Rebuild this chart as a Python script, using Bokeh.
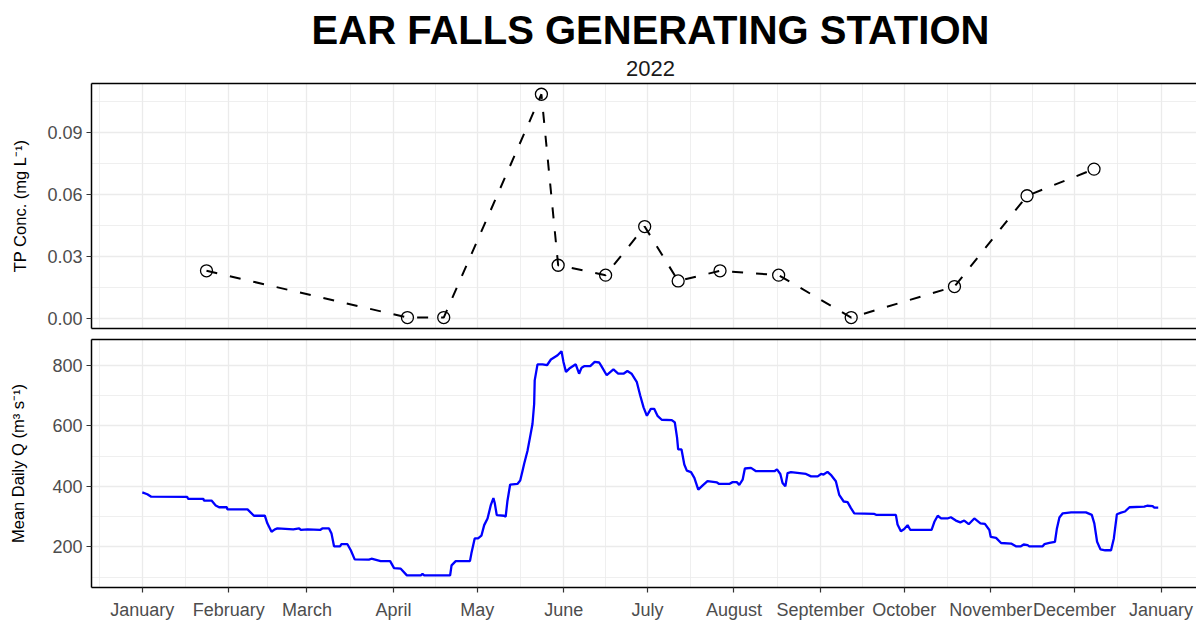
import pandas as pd
from bokeh.plotting import figure
from bokeh.models import FixedTicker, LinearAxis, Range1d, PrintfTickFormatter
from bokeh.core.properties import value
from bokeh.layouts import column
from bokeh.embed import file_html
from bokeh.resources import INLINE

# ---------------- data ----------------
title_text = "EAR FALLS GENERATING STATION"
subtitle_text = "2022"
tp_axis_title = "TP Conc. (mg L\u207b\u00b9)"
q_axis_title = "Mean Daily Q (m\u00b3 s\u207b\u00b9)"

month_starts = ["2022-01-01", "2022-02-01", "2022-03-01", "2022-04-01", "2022-05-01",
                "2022-06-01", "2022-07-01", "2022-08-01", "2022-09-01", "2022-10-01",
                "2022-11-01", "2022-12-01", "2023-01-01"]
month_labels = ["January", "February", "March", "April", "May", "June", "July",
                "August", "September", "October", "November", "December", "January"]

tp_dates = ["2022-01-24", "2022-04-06", "2022-04-19", "2022-05-24", "2022-05-30",
            "2022-06-16", "2022-06-30", "2022-07-12", "2022-07-27", "2022-08-17",
            "2022-09-12", "2022-10-19", "2022-11-14", "2022-12-08"]
tp_conc = [0.0229, 0.0003, 0.0003, 0.1083, 0.0256, 0.0208, 0.0443, 0.0180,
           0.0229, 0.0208, 0.0003, 0.0153, 0.0592, 0.0721]

# day of year (0 = 1 January 2022) and mean daily discharge
flow_day = [0, 1.8, 3.2, 16.1, 16.4, 21.9, 22.1, 24.8, 26.3, 27.5, 30.3, 30.5, 37.7, 40.0,
            43.9, 44.8, 46.3, 47.5, 48.4, 54.1, 56.2, 56.8, 59.2, 63.7, 64.5, 66.9, 67.8,
            68.7, 70.9, 71.3, 73.5, 74.7, 76.1, 81.2, 82.1, 85.4, 88.8, 90.2, 92.6, 94.8,
            99.8, 100.4, 101.0, 110.3, 110.8, 112.3, 117.4, 117.9, 119.1, 120.3, 121.5,
            122.5, 123.7, 124.9, 125.8, 126.3, 127.0, 129.6, 130.2, 130.8, 131.8, 134.4,
            135.4, 136.2, 136.8, 138.0, 138.9, 139.8, 140.4, 140.6, 141.6, 143.4, 145.0,
            146.4, 148.8, 150.2, 150.9, 151.8, 153.0, 155.3, 156.5, 157.4, 158.3, 160.5,
            162.1, 163.7, 164.5, 166.4, 168.8, 170.5, 172.4, 173.8, 175.3, 177.2, 178.4,
            179.6, 180.8, 182.2, 183.4, 184.6, 186.1, 189.7, 190.8, 191.6, 192.0, 193.2,
            194.2, 195.1, 196.6, 197.8, 199.2, 200.8, 202.5, 205.9, 206.7, 210.3, 211.5,
            213.0, 213.9, 215.1, 215.9, 218.1, 219.9, 226.5, 227.4, 228.6, 229.4, 230.4,
            231.2, 232.4, 237.8, 239.6, 242.0, 243.2, 244.1, 245.5, 246.9, 248.5, 249.7,
            251.3, 252.7, 253.9, 255.1, 262.3, 262.9, 270.0, 270.6, 271.8, 273.0, 274.2,
            275.2, 282.8, 283.8, 285.0, 286.2, 288.5, 289.7, 291.5, 293.1, 294.5, 296.1,
            298.1, 300.3, 301.9, 303.5, 304.0, 305.9, 307.7, 311.3, 313.0, 314.8, 315.8,
            317.2, 317.8, 322.6, 323.2, 325.0, 327.0, 327.7, 328.6, 329.8, 332.8, 338.1,
            340.2, 341.1, 342.1, 343.3, 345.0, 347.1, 348.1, 349.2, 350.7, 352.1, 353.7,
            359.0, 360.0, 362.0, 362.6, 364.0]
flow_cms = [380, 374, 366, 365, 359, 359, 353, 353, 337, 331, 331, 324, 324, 303,
            303, 278, 250, 258, 261, 258, 261, 256, 258, 256, 261, 261, 244,
            202, 202, 209, 209, 189, 159, 158, 161, 153, 153, 130, 128, 106,
            106, 111, 106, 106, 139, 153, 153, 178, 228, 228, 237,
            272, 294, 339, 361, 344, 305, 303, 300, 350, 406, 408,
            419, 450, 474, 517, 561, 606, 672, 750, 803, 803, 800,
            819, 833, 846, 811, 778, 789, 803, 772, 792, 797, 797,
            811, 809, 797, 767, 786, 772, 772, 781, 772, 744, 700,
            661, 633, 656, 656, 633, 620, 619, 611, 561, 522, 522,
            472, 452, 447, 428, 389, 403, 417, 413, 408, 408, 414,
            414, 405, 422, 459, 461, 450, 450, 456, 441, 411, 400,
            444, 447, 441, 433, 433, 441, 439, 448, 436, 417, 372,
            350, 348, 328, 311, 309, 306, 306, 274, 252, 259, 272,
            256, 256, 283, 303, 294, 294, 298, 287, 281, 287, 275,
            294, 278, 276, 256, 233, 230, 213, 211, 202, 202, 208,
            206, 202, 202, 209, 213, 217, 261, 297, 311, 314, 314,
            306, 278, 217, 192, 189, 189, 228, 308, 313, 317, 331,
            333, 336, 335, 330, 330]

# ---------------- helpers ----------------
base = pd.Timestamp("2022-01-01")
month_days = [int((pd.Timestamp(d) - base).days) for d in month_starts]
tp_day = [int((pd.Timestamp(d) - base).days) for d in tp_dates]
ext = [int((pd.Timestamp("2021-12-01") - base).days)] + month_days + \
      [int((pd.Timestamp("2023-02-01") - base).days)]
minor_days = [(a + b) / 2 for a, b in zip(ext[:-1], ext[1:])]

FONT = "Liberation Sans"
GRID = "#EBEBEB"
TOTAL_W = 1196
LEFT = 91
FRAME_W = TOTAL_W - LEFT
PX_PER_DAY = 2.791
X0 = -18.2
X1 = X0 + FRAME_W / PX_PER_DAY


def style_axis(ax):
    ax.axis_line_color = "black"
    ax.axis_line_width = 1.5
    ax.major_tick_line_color = "#333333"
    ax.major_tick_line_width = 1.2
    ax.major_tick_out = 5
    ax.major_tick_in = 0
    ax.minor_tick_line_color = None
    ax.major_label_text_font = FONT
    ax.major_label_text_font_size = "18px"
    ax.major_label_text_color = "#4D4D4D"
    ax.major_label_standoff = 4
    ax.axis_label_text_font = FONT
    ax.axis_label_text_font_size = "16.5px"
    ax.axis_label_text_font_style = "normal"
    ax.axis_label_text_color = "black"


def make_fig(frame_h, y0, y1, ymaj, ymin, top_border, bottom_border, show_x):
    p = figure(frame_width=FRAME_W, frame_height=frame_h,
               x_range=Range1d(X0, X1), y_range=Range1d(y0, y1),
               output_backend="svg", toolbar_location=None, title=None,
               min_border_left=LEFT, min_border_right=0,
               min_border_top=top_border, min_border_bottom=bottom_border)
    p.outline_line_color = None
    p.background_fill_color = "white"
    p.border_fill_color = "white"

    xt = FixedTicker(ticks=month_days, minor_ticks=minor_days)
    yt = FixedTicker(ticks=ymaj, minor_ticks=ymin)
    p.xaxis.ticker = xt if show_x else FixedTicker(ticks=[])
    p.yaxis.ticker = yt
    p.xgrid.ticker = xt
    p.ygrid.ticker = yt
    for g in (p.xgrid, p.ygrid):
        g.grid_line_color = GRID
        g.grid_line_width = 1.3
        g.minor_grid_line_color = GRID
        g.minor_grid_line_width = 0.8

    style_axis(p.xaxis[0])
    style_axis(p.yaxis[0])
    if not show_x:
        p.xaxis.major_tick_out = 0
        p.xaxis.major_label_standoff = 0

    top_ax = LinearAxis(ticker=FixedTicker(ticks=[]), axis_line_color="black",
                        axis_line_width=1.5, major_tick_out=0, major_tick_in=0,
                        major_tick_line_color=None, minor_tick_line_color=None,
                        major_label_standoff=0)
    p.add_layout(top_ax, "above")
    return p


# ---------------- title strip (coordinates in page pixels) ----------------
TITLE_H = 82
p0 = figure(frame_width=FRAME_W, frame_height=TITLE_H,
            x_range=Range1d(LEFT, TOTAL_W), y_range=Range1d(TITLE_H, 0),
            x_axis_type=None, y_axis_type=None, title=None,
            output_backend="svg", toolbar_location=None,
            min_border_left=LEFT, min_border_right=0,
            min_border_top=0, min_border_bottom=0)
p0.outline_line_color = None
p0.background_fill_color = "white"
p0.border_fill_color = "white"
p0.text(x=[650], y=[29], text=[title_text], text_font=value(FONT),
        text_font_size="40px", text_font_style="bold", text_color="black",
        text_align="center", text_baseline="alphabetic")
p0.text(x=[650], y=[68], text=[subtitle_text], text_font=value(FONT),
        text_font_size="22px", text_color="#1A1A1A",
        text_align="center", text_baseline="alphabetic")

# ---------------- top panel: TP ----------------
p1 = make_fig(245, -0.0050, 0.1135, [0, 0.03, 0.06, 0.09],
              [0.015, 0.045, 0.075, 0.105], 1, 5, False)
p1.yaxis.formatter = PrintfTickFormatter(format="%.2f")
p1.yaxis.axis_label = tp_axis_title
p1.yaxis.axis_label_standoff = 15

p1.line(tp_day, tp_conc, line_color="black", line_width=2, line_dash="11 13")
p1.scatter(tp_day, tp_conc, marker="circle", size=12, fill_color=None,
           line_color="black", line_width=1.3)

# ---------------- bottom panel: discharge ----------------
p2 = make_fig(248, 66, 885, [200, 400, 600, 800], [100, 300, 500, 700], 6, 0, True)
p2.yaxis.axis_label = q_axis_title
p2.yaxis.axis_label_standoff = 22
p2.xaxis.major_label_overrides = {d: lab for d, lab in zip(month_days, month_labels)}
p2.xaxis.major_label_standoff = 7

p2.line(flow_day, flow_cms, line_color="#0000FF", line_width=2.3)

layout = column(p0, p1, p2, spacing=0)
open("out.html", "w").write(file_html(layout, INLINE))
